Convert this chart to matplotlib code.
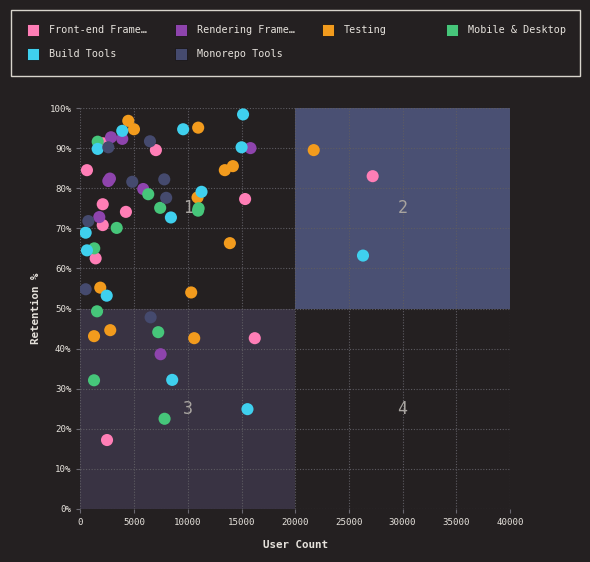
import matplotlib
matplotlib.use("Agg")
import matplotlib.pyplot as plt
import matplotlib.patches as patches
from matplotlib.ticker import FuncFormatter, MultipleLocator

# ---------- data ----------
categories = ["Front-end Frame…", "Rendering Frame…", "Testing",
              "Mobile & Desktop", "Build Tools", "Monorepo Tools"]
colors = ["#ff7eb6", "#8e44ad", "#f29b1d", "#46c67a", "#3fd0ee", "#454a6e"]

frontend_x = [2100, 7020, 600, 15330, 2070, 4230, 2070, 1410, 16230, 2470, 27210]
frontend_y = [91.2, 89.5, 84.5, 77.3, 76.0, 74.1, 70.8, 62.5, 42.6, 17.2, 83.0]

rendering_x = [2840, 3890, 15830, 2590, 2740, 5840, 1750, 7460]
rendering_y = [92.7, 92.3, 90.0, 81.8, 82.4, 79.8, 72.8, 38.6]

testing_x = [4450, 4980, 10960, 13440, 14190, 10900, 13910, 1840, 10310, 1260, 2770, 10590, 21720]
testing_y = [96.8, 94.7, 95.1, 84.5, 85.5, 77.7, 66.3, 55.2, 54.0, 43.1, 44.6, 42.6, 89.5]

mobile_x = [1600, 6310, 11000, 10950, 7420, 3370, 1280, 1540, 7240, 1260, 7830]
mobile_y = [91.6, 78.5, 75.0, 74.4, 75.1, 70.1, 65.0, 49.3, 44.1, 32.1, 22.5]

build_x = [3890, 1600, 9560, 15140, 15000, 11270, 8420, 480, 600, 2440, 8540, 15550, 26310]
build_y = [94.3, 89.8, 94.7, 98.4, 90.2, 79.1, 72.7, 68.9, 64.5, 53.2, 32.2, 24.9, 63.2]

monorepo_x = [2590, 6470, 4820, 7800, 7980, 730, 480, 6530]
monorepo_y = [90.2, 91.7, 81.6, 82.2, 77.6, 71.8, 54.8, 47.8]

series_x = [frontend_x, rendering_x, testing_x, mobile_x, build_x, monorepo_x]
series_y = [frontend_y, rendering_y, testing_y, mobile_y, build_y, monorepo_y]

x_split, y_split = 20000, 50
x_max, y_max = 40000, 100

# ---------- style ----------
BG = "#242021"
TXT = "#e6e2dc"
MONO = ["DejaVu Sans Mono"]

plt.rcParams["font.family"] = MONO

fig = plt.figure(figsize=(5.9, 5.62), dpi=100, facecolor=BG)
ax = fig.add_axes([80.5 / 590, 1 - 509 / 562, 429.5 / 590, 401 / 562])
ax.set_facecolor(BG)

# quadrant shading
ax.add_patch(patches.Rectangle((x_split, y_split), x_max - x_split, y_max - y_split,
                               fc="#4a5073", ec="none", zorder=0))
ax.add_patch(patches.Rectangle((0, 0), x_split, y_split,
                               fc="#393343", ec="none", zorder=0))

for i, (qx, qy) in enumerate([(x_split / 2, 75), (x_split * 1.5, 75),
                              (x_split / 2, 25), (x_split * 1.5, 25)]):
    ax.text(qx, qy, str(i + 1), ha="center", va="center", fontsize=12,
            color="#a8a4a0", zorder=1)

for xs, ys, c in zip(series_x, series_y, colors):
    ax.scatter(xs, ys, s=76, color=c, edgecolors="none", zorder=3)

ax.set_xlim(0, x_max)
ax.set_ylim(0, y_max)
ax.xaxis.set_major_locator(MultipleLocator(5000))
ax.yaxis.set_major_locator(MultipleLocator(10))
ax.yaxis.set_major_formatter(FuncFormatter(lambda v, _: f"{v:.0f}%"))
ax.grid(True, color="#5e5c62", linestyle=(0, (1, 1.5)), linewidth=0.8, zorder=0.5)
ax.set_axisbelow(True)
for s in ax.spines.values():
    s.set_visible(False)
ax.tick_params(colors="#6a6870", labelcolor=TXT, labelsize=6.6, length=3, width=0.8)

ax.set_xlabel("User Count", color=TXT, fontsize=7.8, fontweight="bold", labelpad=9)
ax.set_ylabel("Retention %", color=TXT, fontsize=7.8, fontweight="bold", labelpad=6)

# ---------- legend ----------
W, H = 590, 562
fig.patches.append(patches.Rectangle((10.5 / W, 1 - 76 / H), 569 / W, 66 / H,
                                     transform=fig.transFigure, fc="none",
                                     ec="#d8d4cc", lw=1.0))
col_x = [27, 175, 322, 446]
row_y = [30, 54]
for i, (lab, c) in enumerate(zip(categories, colors)):
    cx = col_x[i % 4] if i < 4 else col_x[i - 4]
    cy = row_y[0] if i < 4 else row_y[1]
    fig.patches.append(patches.Rectangle((cx / W, 1 - (cy + 6) / H), 12 / W, 12 / H,
                                         transform=fig.transFigure, fc=c,
                                         ec="#1a1718", lw=0.6))
    fig.text((cx + 22) / W, 1 - cy / H, lab, color=TXT, fontsize=7.3,
             ha="left", va="center")

fig.savefig("out.png", dpi=100, facecolor=BG)
